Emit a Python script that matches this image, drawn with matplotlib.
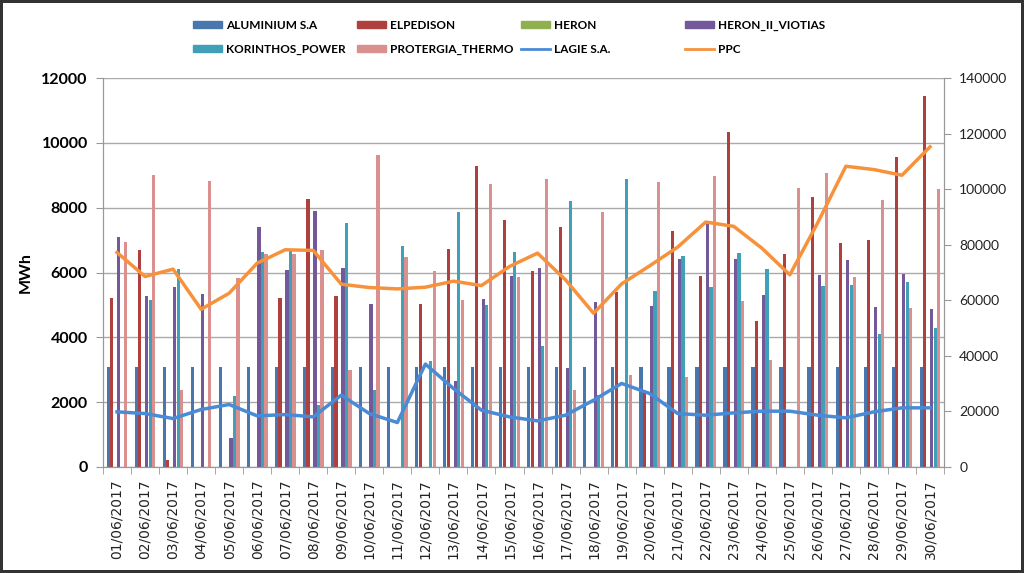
import numpy as np
import matplotlib.pyplot as plt
from matplotlib.patches import Patch
from matplotlib.lines import Line2D

# giorni
giorni = ['%02d/06/2017' % d for d in range(1, 31)]

# barre (asse sinistro, MWh)
aluminium = [3080] * 30
elpedison = [5210, 6680, 230, 0, 0, 0, 5210, 8270, 5270, 0,
             0, 5020, 6740, 9270, 7610, 6060, 7400, 0, 5410, 2270,
             7290, 5890, 10320, 4510, 6570, 8340, 6910, 7010, 9550, 11460]
heron = [0] * 30
heron_ii = [7080, 5270, 5540, 5340, 900, 7410, 6080, 7910, 6140, 5020,
            0, 0, 2650, 5180, 5900, 6140, 3050, 5080, 0, 4970,
            6420, 7530, 6410, 5310, 0, 5930, 6380, 4950, 5950, 4880]
korinthos = [0, 5160, 6110, 0, 2200, 6640, 6650, 1910, 7540, 2390,
             6820, 3270, 7860, 4990, 6630, 3740, 8220, 2220, 8890, 5430,
             6500, 5540, 6610, 6110, 0, 5580, 5600, 4100, 5700, 4290]
protergia = [6930, 9020, 2390, 8810, 5840, 6570, 6570, 6690, 2990, 9610,
             6470, 6060, 5160, 8720, 5850, 8870, 2370, 7880, 2840, 8790,
             2780, 8990, 5110, 3290, 8610, 9080, 5860, 8250, 4920, 8580]

# linee (asse destro)
lagie = [19850, 19240, 17440, 20690, 22490, 18400, 18880, 18040, 25860, 19240,
         16000, 37040, 28260, 20450, 18040, 16600, 18640, 24050, 30070, 26460,
         19240, 18640, 19480, 20090, 20090, 18640, 17680, 19850, 21290, 21290]
ppc = [77200, 68550, 71200, 56760, 62540, 73370, 78180, 77940, 65790, 64590,
       64100, 64710, 66870, 65300, 72160, 76970, 67350, 55330, 65900, 72400,
       79140, 88160, 86600, 78780, 69160, 88000, 108240, 107040, 105000, 115220]

nomi = ['ALUMINIUM S.A', 'ELPEDISON', 'HERON', 'HERON_II_VIOTIAS',
        'KORINTHOS_POWER', 'PROTERGIA_THERMO']
serie = [aluminium, elpedison, heron, heron_ii, korinthos, protergia]
colori = ['#4A76B0', '#B0403D', '#8FB04F', '#74599A', '#3FA0B8', '#D9908F']

fig = plt.figure(figsize=(10.24, 5.73), dpi=100)
fig.patch.set_edgecolor('#333333')
fig.patch.set_linewidth(4)
ax = fig.add_axes([103/1024, 1-467/573, (944-103)/1024, (467-78)/573])
ax2 = ax.twinx()

x = np.arange(30)
w = 0.125
for i in range(6):
    ax.bar(x - 0.375 + w/2 + i*w, serie[i], width=0.115, color=colori[i], zorder=2)

ax2.plot(x, lagie, color='#4A8BD6', lw=2.5, zorder=3)
ax2.plot(x, ppc, color='#F7923C', lw=2.5, zorder=3)

ax.set_xlim(-0.5, 29.5)
ax.set_ylim(0, 12000)
ax.set_yticks(np.arange(0, 12001, 2000))
ax2.set_ylim(0, 140000)
ax2.set_yticks(np.arange(0, 140001, 20000))

ax.set_xticks(x)
ax.set_xticklabels(giorni, rotation=90, fontsize=10, color='#222222')
ax.set_xticks(np.arange(-0.5, 30, 1), minor=True)
ax.tick_params(axis='x', which='major', length=0, pad=9)
ax.tick_params(axis='x', which='minor', length=5, color='#999999')
ax.tick_params(axis='y', length=5, color='#999999', pad=6)
ax2.tick_params(axis='y', length=5, color='#999999', pad=6)
for t in ax.get_yticklabels():
    t.set_fontweight('bold')
    t.set_fontsize(11.5)
    t.set_family('Lato')
for t in ax2.get_yticklabels():
    t.set_fontsize(10)
    t.set_family('Lato')
    t.set_color('#222222')

ax.grid(axis='y', color='#AAAAAA', lw=1, zorder=0)
ax.set_axisbelow(True)
for a in (ax, ax2):
    a.spines['top'].set_visible(False)
    for s in ('left', 'right', 'bottom'):
        a.spines[s].set_color('#999999')

ax.set_ylabel('MWh', fontsize=11.5, fontweight='bold', family='Lato')
ax.yaxis.set_label_coords(-0.084, 0.5)

# legenda a 4 colonne
maniglie = [Patch(color=c) for c in colori]
maniglie += [Line2D([], [], color='#4A8BD6', lw=2), Line2D([], [], color='#F7923C', lw=2)]
etichette = nomi + ['LAGIE S.A.', 'PPC']
colx = [187, 351, 515, 679]
for j in range(4):
    leg = fig.legend([maniglie[j], maniglie[j+4]], [etichette[j], etichette[j+4]],
                     loc='upper left', bbox_to_anchor=(colx[j]/1024, 1-14/573),
                     frameon=False, prop={'weight': 'bold', 'size': 8.5, 'family': 'Lato'},
                     handlelength=2.5, handleheight=0.6, handletextpad=0.3,
                     labelspacing=1.1, borderpad=0)

fig.savefig('out.png', dpi=100)
